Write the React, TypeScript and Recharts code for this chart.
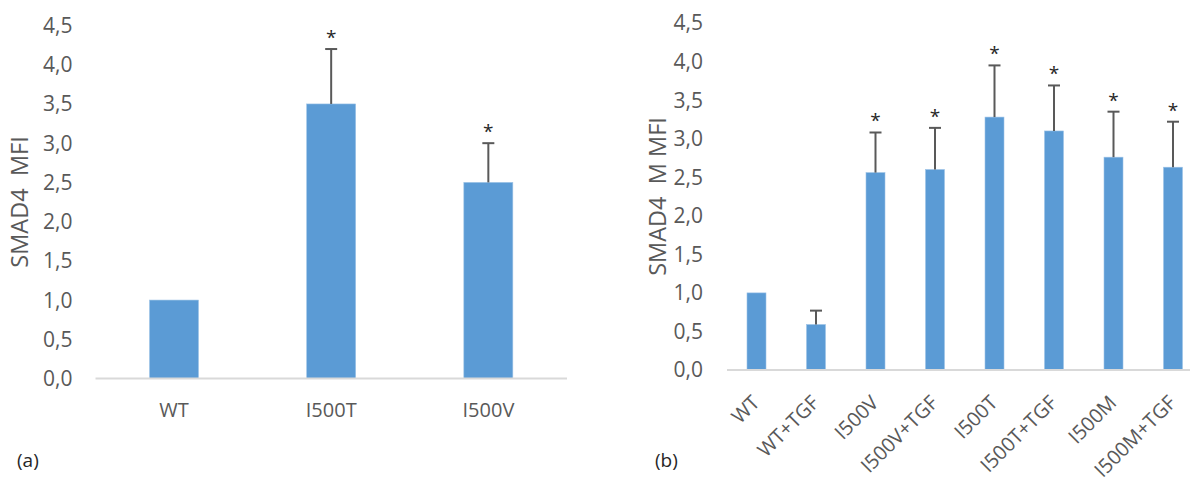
import React from "react";
import { Bar, BarChart, XAxis, YAxis } from "recharts";

// Panel (a)
const CATS_A = ["WT", "I500T", "I500V"];
const VALS_A = [1.0, 3.5, 2.5];
const ERR_A = [0, 0.7, 0.5];
const SIG_A = [false, true, true];

// Panel (b)
const CATS_B = ["WT", "WT+TGF", "I500V", "I500V+TGF", "I500T", "I500T+TGF", "I500M", "I500M+TGF"];
const VALS_B = [1.0, 0.59, 2.56, 2.6, 3.28, 3.1, 2.76, 2.63];
const ERR_B = [0, 0.18, 0.52, 0.54, 0.67, 0.59, 0.59, 0.59];
const SIG_B = [false, false, true, true, true, true, true, true];

const Y_TICKS = [0, 0.5, 1, 1.5, 2, 2.5, 3, 3.5, 4, 4.5];

const FONT = "'Open Sans', sans-serif";
const GREY = "#595959";
const BLUE = "#5B9BD5";

const build = (cats: string[], vals: number[], errs: number[], sig: boolean[]) =>
  cats.map((name, i) => ({ name, value: vals[i], err: errs[i], sig: sig[i] }));

const dataA = build(CATS_A, VALS_A, ERR_A, SIG_A);
const dataB = build(CATS_B, VALS_B, ERR_B, SIG_B);

const fmt = (v: number) => v.toFixed(1).replace(".", ",");

// bar + one-sided error bar + significance star, sized from the bar's own scale
function BarWithError(props: any) {
  const { x, y, width, height, payload } = props;
  const cx = x + width / 2;
  const unit = payload.value ? height / payload.value : 0;
  const top = y - payload.err * unit;
  return (
    <g>
      <rect x={x} y={y} width={width} height={height} fill={BLUE} stroke="#9DC3E6" strokeWidth={0.6} />
      {payload.err > 0 && (
        <g stroke={GREY} strokeWidth={2}>
          <line x1={cx} y1={y} x2={cx} y2={top} />
          <line x1={cx - 6} y1={top} x2={cx + 6} y2={top} />
        </g>
      )}
      {payload.sig && (
        <text x={cx} y={top - 5} textAnchor="middle" fontSize={19} fill="#262626" fontFamily={FONT}>
          *
        </text>
      )}
    </g>
  );
}

function RotTick(props: any) {
  const { x, y, payload } = props;
  return (
    <g transform={`translate(${x + 4},${y + 26})`}>
      <text textAnchor="end" transform="rotate(-45)" fontSize={20} fill={GREY} fontFamily={FONT}>
        {payload.value}
      </text>
    </g>
  );
}

export default function App() {
  return (
    <div style={{ position: "absolute", left: 0, top: 0, width: 1190, height: 477, overflow: "hidden", background: "#fff" }}>
      <div style={{ position: "absolute", left: 0, top: 0 }}>
        <BarChart width={580} height={477} data={dataA} margin={{ top: 25.5, right: 13, left: 0, bottom: 38.5 }} barSize={49}>
          <XAxis
            dataKey="name"
            height={60}
            tickLine={false}
            axisLine={{ stroke: "#D9D9D9", strokeWidth: 2 }}
            tickMargin={18}
            tick={{ fill: GREY, fontSize: 20, fontFamily: FONT }}
          />
          <YAxis
            width={95.5}
            domain={[0, 4.5]}
            ticks={Y_TICKS}
            tickFormatter={fmt}
            axisLine={false}
            tickLine={false}
            tickMargin={17}
            tick={{ fill: GREY, fontSize: 21, fontFamily: FONT }}
            label={{
              value: "SMAD4\u00a0 MFI",
              angle: -90,
              position: "insideLeft",
              offset: 20,
              style: { textAnchor: "middle", fill: GREY, fontSize: 23.5, fontFamily: FONT },
            }}
          />
          <Bar dataKey="value" isAnimationActive={false} shape={<BarWithError />} />
        </BarChart>
      </div>
      <div style={{ position: "absolute", left: 640, top: 0 }}>
        <BarChart width={563} height={477} data={dataB} margin={{ top: 23, right: 0, left: 0, bottom: 27 }} barSize={19}>
          <XAxis
            dataKey="name"
            height={80}
            interval={0}
            tickLine={false}
            axisLine={{ stroke: "#D9D9D9", strokeWidth: 2 }}
            tick={<RotTick />}
          />
          <YAxis
            width={87}
            domain={[0, 4.5]}
            ticks={Y_TICKS}
            tickFormatter={fmt}
            axisLine={false}
            tickLine={false}
            tickMargin={18}
            tick={{ fill: GREY, fontSize: 21, fontFamily: FONT }}
            label={{
              value: "SMAD4\u00a0 M MFI",
              angle: -90,
              position: "insideLeft",
              offset: 18,
              style: { textAnchor: "middle", fill: GREY, fontSize: 23.5, fontFamily: FONT },
            }}
          />
          <Bar dataKey="value" isAnimationActive={false} shape={<BarWithError />} />
        </BarChart>
      </div>
      <div style={{ position: "absolute", left: 17, top: 447, fontFamily: FONT, fontSize: 19, color: "#262626" }}>(a)</div>
      <div style={{ position: "absolute", left: 655, top: 447, fontFamily: FONT, fontSize: 19, color: "#262626" }}>(b)</div>
    </div>
  );
}
